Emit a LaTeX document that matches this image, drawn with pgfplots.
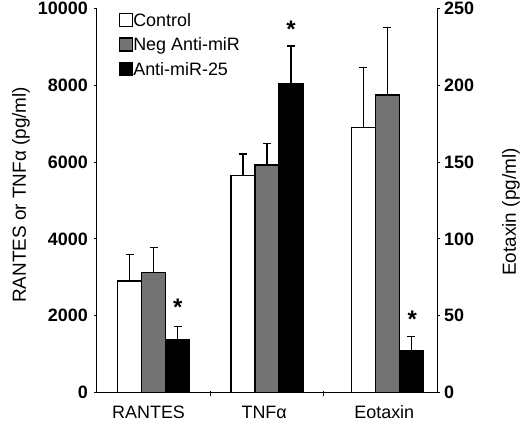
\documentclass[border=0pt]{standalone}
\usepackage{fontspec}
\setmainfont{Liberation Sans}
\usepackage{pgfplots}
\pgfplotsset{compat=1.18}
\definecolor{barGray}{RGB}{115,115,115}
\newcommand{\fs}{\fontsize{18}{20}\selectfont}
\newcommand{\fstar}{\fontsize{24}{26}\selectfont}
\begin{document}
\begin{tikzpicture}
\useasboundingbox (-97bp,-29.5bp) rectangle (427bp,392.5bp);
\pgfplotsset{
  common/.style={
    at={(0,0)}, anchor=south west, scale only axis, width=340bp, height=384bp,
    xmin=0.5, xmax=3.5, ymin=0,
    axis line style={line width=1bp, black},
    tick style={line width=1bp, black},
    tick align=outside, major tick length=3bp,
    /pgf/number format/assume math mode=true,
    scaled y ticks=false,
    /pgf/number format/1000 sep={},
    clip=false,
  },
  mybar/.style={ybar, bar width=0.212, bar shift=0, draw=black, line width=1.1bp, fill=#1},
  myerr/.style={error bars/.cd, y dir=plus, y explicit,
    error bar style={line width=1.1bp, black, solid},
    error mark options={rotate=90, black, line width=1.1bp, mark size=4bp}},
}
\begin{axis}[common, ymax=10000,
  axis x line*=bottom, axis y line*=left,
  ytick pos=left, xtick pos=bottom,
  ytick={0,2000,4000,6000,8000,10000},
  yticklabel style={anchor=east, inner sep=0pt, xshift=-6bp, font=\bfseries\fs},
  xtick={0.955,1.975,3.035}, xticklabels={RANTES, TNFα, Eotaxin},
  major x tick style={draw=none},
  xticklabel style={anchor=base, inner sep=0pt, yshift=-22.5bp, font=\fs},
  minor xtick={1.5,2.5}, minor tick length=5bp,
  minor x tick style={yshift=1.5bp},
  every axis y label/.style={at={(axis description cs:-0.2235,0.515)}, rotate=90, anchor=center, font=\fontsize{19}{21}\selectfont},
  ylabel={RANTES or TNFα (pg/ml)},
  legend style={at={(0.0647,0.989)}, anchor=north west, draw=none, fill=none,
    inner sep=0pt, row sep=10.4bp, font=\fs, cells={anchor=west},
    nodes={inner sep=0pt, text height=13bp, text depth=0bp},
    /tikz/every even column/.append style={column sep=2bp}},
  legend image code/.code={\draw[line width=1.1bp, #1] (0bp,-6.5bp) rectangle (13bp,6.5bp);},
]
\addlegendimage{draw=black, fill=white}
\addlegendentry{Control}
\addlegendimage{draw=black, fill=barGray}
\addlegendentry{Neg Anti-miR}
\addlegendimage{draw=black, fill=black}
\addlegendentry{Anti-miR-25}
% Control
\addplot[mybar=white, forget plot, myerr] coordinates {
  (0.788,2904) +- (0,685)
  (1.788,5646) +- (0,565)
};
% Neg Anti-miR
\addplot[mybar=barGray, forget plot, myerr] coordinates {
  (1.000,3130) +- (0,641)
  (2.000,5924) +- (0,555)
};
% Anti-miR-25
\addplot[mybar=black, forget plot, myerr] coordinates {
  (1.212,1367) +- (0,357)
  (2.212,8042) +- (0,981)
};
% significance stars
\addplot[draw=none, forget plot, nodes near coords={\bfseries *},
  every node near coord/.style={anchor=base, inner sep=0pt, font=\fstar}]
  coordinates {(1.212,2008) (2.212,9232)};
\end{axis}
\begin{axis}[common, ymax=250,
  axis x line=none, axis y line*=right, ytick pos=right,
  ytick={0,50,100,150,200,250},
  yticklabel style={anchor=west, inner sep=0pt, xshift=4bp, font=\bfseries\fs},
  every axis y label/.style={at={(axis description cs:1.2176,0.47)}, rotate=90, anchor=center, font=\fontsize{19}{21}\selectfont},
  ylabel={Eotaxin (pg/ml)},
]
\addplot[mybar=white, myerr] coordinates {(2.848,172.4) +- (0,39.3)};
\addplot[mybar=barGray, myerr] coordinates {(3.060,193.7) +- (0,44.1)};
\addplot[mybar=black, myerr] coordinates {(3.272,27.0) +- (0,9.3)};
\addplot[draw=none, nodes near coords={\bfseries *},
  every node near coord/.style={anchor=base, inner sep=0pt, font=\fstar}]
  coordinates {(3.282,42.2)};
\end{axis}
\end{tikzpicture}
\end{document}
